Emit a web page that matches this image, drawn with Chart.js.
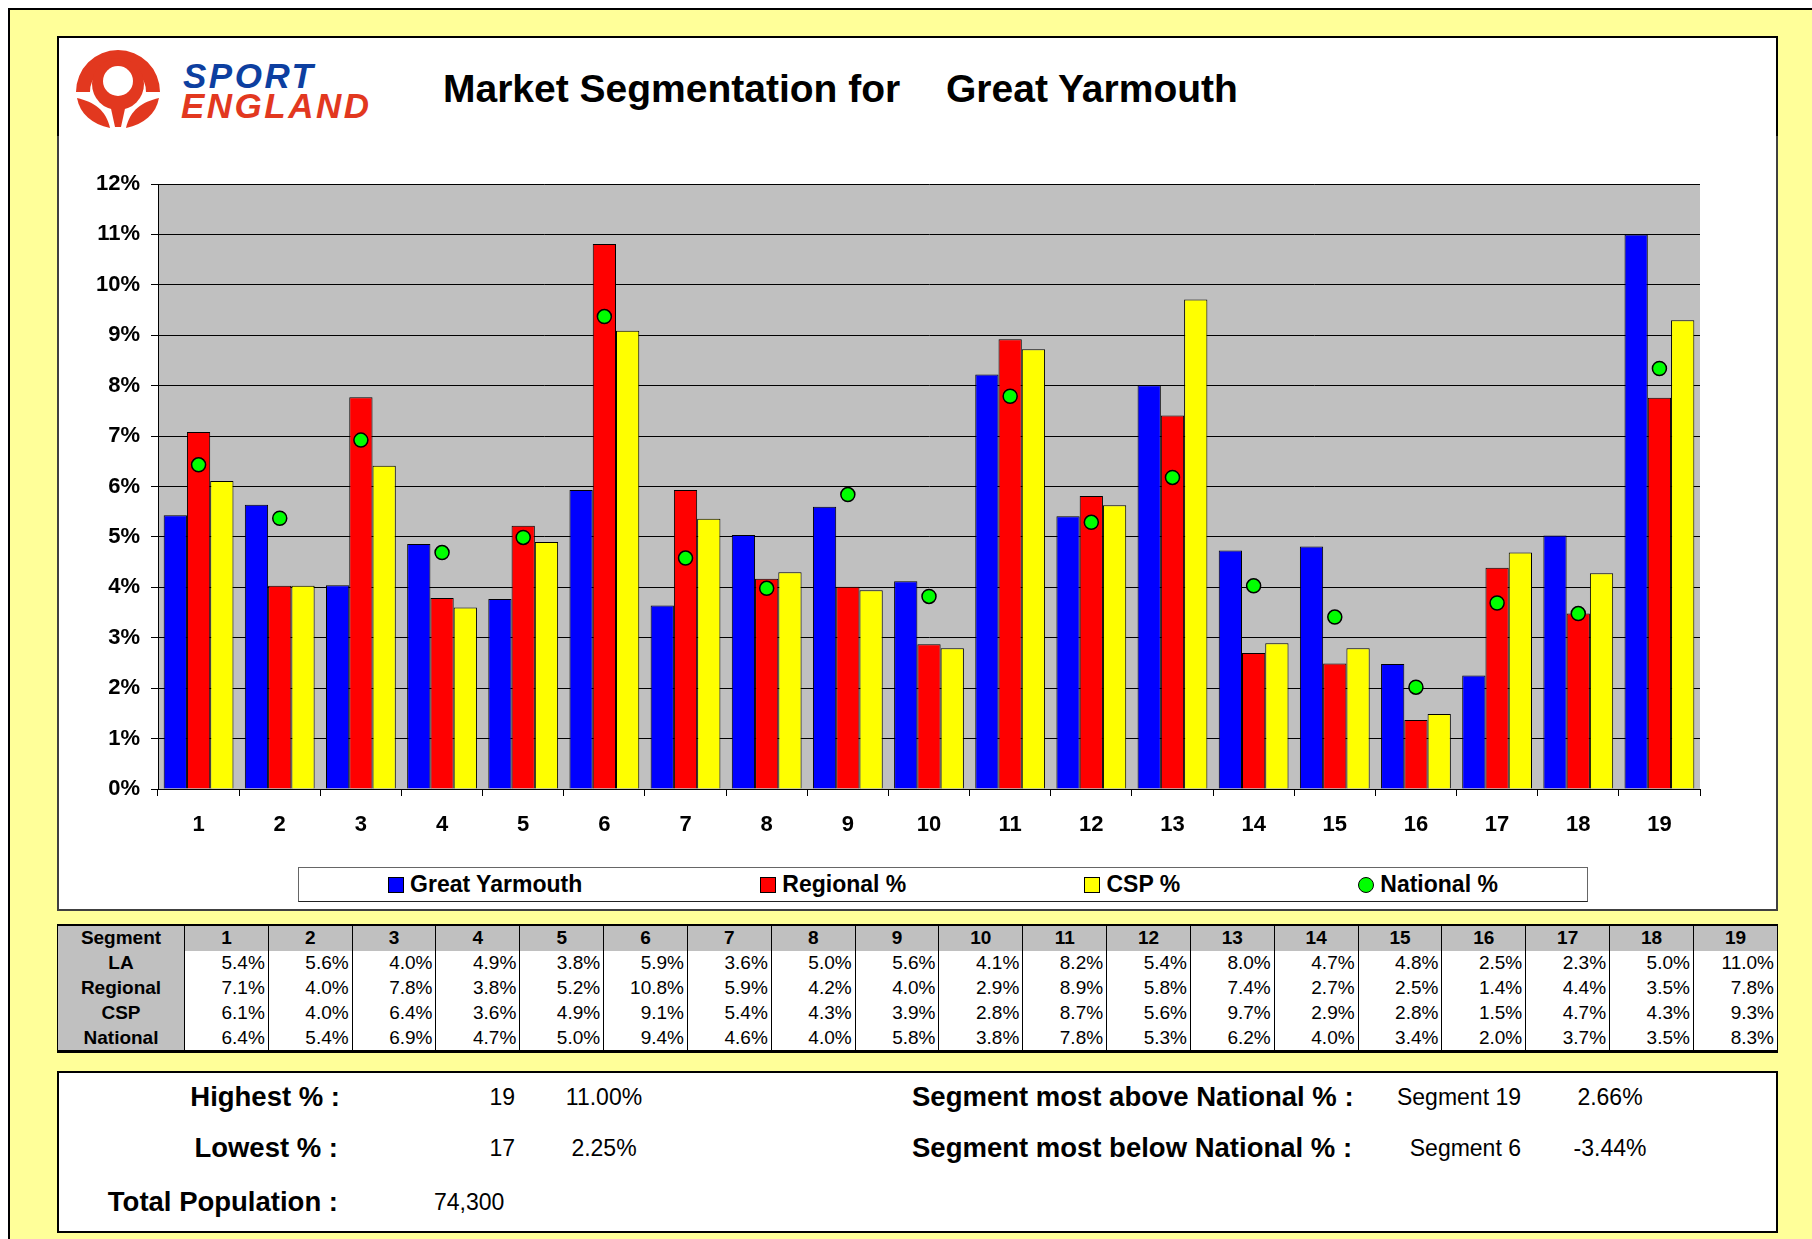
<!DOCTYPE html>
<html>
<head>
<meta charset="utf-8">
<title>Market Segmentation for Great Yarmouth</title>
<script src="https://cdn.jsdelivr.net/npm/chart.js@4.4.1/dist/chart.umd.min.js"></script>
<style>
body { margin:0; background:#fff; font-family:"Liberation Sans", Arial, sans-serif; width:1812px; height:1239px; overflow:hidden; position:relative; }
#bg { position:absolute; left:8px; top:8px; width:1830px; height:1260px; background:#ffff99; border:2px solid #000; }
.box { position:absolute; background:#fff; box-sizing:border-box; }
#chartbox { left:57px; top:134px; width:1721px; height:777px; border:2px solid #404040; }
#head { left:57px; top:36px; width:1721px; height:100px; border:2px solid #000; border-bottom:none; }
#logo { position:absolute; left:70px; top:44px; }
.logotxt { position:absolute; font-weight:bold; font-style:italic; font-size:35px; letter-spacing:2.5px; line-height:34px; }
.title { position:absolute; top:69px; font-weight:bold; font-size:39px; line-height:40px; white-space:nowrap; }
#mychart { position:absolute; left:59px; top:137px; }
#legend { position:absolute; left:298px; top:867px; width:1290px; height:35px; box-sizing:border-box; border:1px solid #666; border-bottom-color:#222; background:#fff; display:flex; justify-content:space-around; align-items:center; }
.item { display:flex; align-items:center; font-weight:bold; font-size:23px; }
.mark { width:14px; height:14px; border:1px solid #000; margin-right:6px; }
#tbl { position:absolute; left:57px; top:924px; width:1721px; border-collapse:collapse; table-layout:fixed; font-size:19px; border-top:2px solid #000; border-bottom:3px solid #000; }
#tbl td { border-left:1px solid #000; border-right:1px solid #000; height:24.8px; padding:0 3px 0 0; text-align:right; line-height:24px; background:#fff; white-space:nowrap; }
#tbl tr:first-of-type td, #tbl td:first-child { background:#c0c0c0; font-weight:bold; text-align:center; padding:0; }
#summary { left:57px; top:1071px; width:1721px; height:162px; border:2px solid #000; }
.lbl { position:absolute; font-weight:bold; font-size:27.5px; line-height:30px; white-space:nowrap; }
.val { position:absolute; font-size:23px; line-height:30px; white-space:nowrap; }
</style>
</head>
<body>
<div id="bg"></div>
<div class="box" id="chartbox"></div>
<div class="box" id="head"></div>

<svg id="logo" width="110" height="90" viewBox="0 0 110 90">
  <path d="M6,48 A42,42 0 0 1 90,48 L76,48 A28,28 0 0 0 20,48 Z" fill="#e2381f"/>
  <circle cx="48" cy="40" r="26" fill="#e2381f"/>
  <circle cx="48" cy="37" r="15" fill="#fff"/>
  <path d="M40,60 L56,60 L51,83 L45,83 Z" fill="#e2381f"/>
  <path d="M7,54 C10,70 22,80 40,84 C36,66 24,58 7,54 Z" fill="#e2381f"/>
  <path d="M89,54 C86,70 74,80 56,84 C60,66 72,58 89,54 Z" fill="#e2381f"/>
</svg>
<div class="logotxt" style="left:183px;top:59px;color:#0d3fa0;">SPORT</div>
<div class="logotxt" style="left:181px;top:89px;color:#e2381f;">ENGLAND</div>
<div class="title" style="left:443px;">Market Segmentation for</div>
<div class="title" style="left:946px;" id="area"></div>

<canvas id="mychart" width="1716" height="771"></canvas>
<div id="legend"></div>

<table id="tbl"></table>

<div class="box" id="summary"></div>
<div id="sumtext"></div>

<script>
//data
const areaName = 'Great Yarmouth';
const segments = ['1','2','3','4','5','6','7','8','9','10','11','12','13','14','15','16','17','18','19'];
const laValues = [5.43, 5.64, 4.04, 4.86, 3.77, 5.93, 3.64, 5.04, 5.60, 4.12, 8.22, 5.41, 8.01, 4.73, 4.81, 2.48, 2.25, 5.03, 11.00];
const regionalValues = [7.08, 4.03, 7.77, 3.79, 5.22, 10.81, 5.93, 4.17, 4.01, 2.87, 8.92, 5.81, 7.41, 2.70, 2.49, 1.37, 4.39, 3.48, 7.76];
const cspValues = [6.11, 4.03, 6.41, 3.60, 4.90, 9.09, 5.36, 4.30, 3.94, 2.79, 8.72, 5.63, 9.71, 2.89, 2.79, 1.49, 4.69, 4.28, 9.30];
const nationalValues = [6.43, 5.37, 6.92, 4.69, 4.99, 9.37, 4.58, 3.98, 5.84, 3.82, 7.79, 5.29, 6.18, 4.03, 3.41, 2.02, 3.69, 3.48, 8.34];
const yTicks = [0,1,2,3,4,5,6,7,8,9,10,11,12];
const totalPopulation = 74300;

const seriesNames = [areaName, 'Regional %', 'CSP %', 'National %'];
const seriesColors = ['#0000ff', '#ff0000', '#ffff00', '#00ff00'];
const tableRows = ['LA', 'Regional', 'CSP', 'National'];

const fontFam = '"Liberation Sans", Arial, sans-serif';
document.getElementById('area').textContent = areaName;

//grå bakgrunn i plottet
const plotBg = {
    id: 'plotBg',
    beforeDraw(chart) {
        const a = chart.chartArea;
        const c = chart.ctx;
        c.save();
        c.fillStyle = '#c0c0c0';
        c.fillRect(a.left, a.top, a.right - a.left, a.bottom - a.top);
        c.restore();
    }
};

const barSet = (i, data) => ({
    label: seriesNames[i],
    data: data,
    backgroundColor: seriesColors[i],
    borderColor: '#000',
    borderWidth: 1,
    categoryPercentage: 0.86,
    barPercentage: 1.0
});

new Chart(document.getElementById('mychart'), {
    type: 'bar',
    data: {
        labels: segments,
        datasets: [
            barSet(0, laValues),
            barSet(1, regionalValues),
            barSet(2, cspValues),
            {
                type: 'line',
                label: seriesNames[3],
                data: nationalValues,
                showLine: false,
                pointRadius: 7,
                pointHoverRadius: 7,
                pointBackgroundColor: seriesColors[3],
                pointBorderColor: '#000',
                pointBorderWidth: 1.5,
                order: -1
            }
        ]
    },
    options: {
        responsive: false,
        animation: false,
        layout: { padding: { top: 47, right: 75, left: 0, bottom: 0 } },
        plugins: { legend: { display: false }, tooltip: { enabled: false } },
        scales: {
            x: {
                grid: { offset: true, drawOnChartArea: false, color: '#000', tickLength: 7 },
                border: { color: '#000', width: 1 },
                ticks: { color: '#000', padding: 16, maxRotation: 0, autoSkip: false,
                    font: { family: fontFam, size: 22, weight: 'bold' } },
                afterFit: s => { s.height = 119; }
            },
            y: {
                min: yTicks[0],
                max: yTicks[yTicks.length - 1],
                grid: { color: '#000', tickLength: 7 },
                border: { color: '#000', width: 1 },
                ticks: { stepSize: 1, padding: 11, color: '#000',
                    font: { family: fontFam, size: 22, weight: 'bold' },
                    callback: v => v + '%' },
                afterFit: s => { s.width = 99; }
            }
        }
    },
    plugins: [plotBg]
});

//legend
const legend = document.getElementById('legend');
seriesNames.forEach((name, i) => {
    const item = document.createElement('div');
    item.className = 'item';
    const mark = document.createElement('div');
    mark.className = 'mark';
    mark.style.background = seriesColors[i];
    if (i === 3) mark.style.borderRadius = '50%';
    item.appendChild(mark);
    item.appendChild(document.createTextNode(name));
    legend.appendChild(item);
});

//tabell
const tbl = document.getElementById('tbl');
const cols = document.createElement('colgroup');
cols.innerHTML = '<col style="width:127px">' + segments.map(() => '<col>').join('');
tbl.appendChild(cols);
function addRow(first, cells) {
    const tr = document.createElement('tr');
    [first].concat(cells).forEach(t => {
        const td = document.createElement('td');
        td.textContent = t;
        tr.appendChild(td);
    });
    tbl.appendChild(tr);
}
addRow('Segment', segments);
[laValues, regionalValues, cspValues, nationalValues].forEach((vals, i) => {
    addRow(tableRows[i], vals.map(v => v.toFixed(1) + '%'));
});

//oppsummering
let hi = 0, lo = 0, above = 0, below = 0;
laValues.forEach((v, i) => {
    if (v > laValues[hi]) hi = i;
    if (v < laValues[lo]) lo = i;
    if (v - nationalValues[i] > laValues[above] - nationalValues[above]) above = i;
    if (v - nationalValues[i] < laValues[below] - nationalValues[below]) below = i;
});
const sumItems = [
    ['lbl', 'Highest % :', 340, 1082, 'right'],
    ['val', segments[hi], 515, 1082, 'right'],
    ['val', laValues[hi].toFixed(2) + '%', 604, 1082, 'center'],
    ['lbl', 'Lowest % :', 338, 1133, 'right'],
    ['val', segments[lo], 515, 1133, 'right'],
    ['val', laValues[lo].toFixed(2) + '%', 604, 1133, 'center'],
    ['lbl', 'Total Population :', 338, 1187, 'right'],
    ['val', totalPopulation.toLocaleString('en-GB'), 434, 1187, 'left'],
    ['lbl', 'Segment most above National % :', 912, 1082, 'left'],
    ['val', 'Segment ' + segments[above], 1521, 1082, 'right'],
    ['val', (laValues[above] - nationalValues[above]).toFixed(2) + '%', 1610, 1082, 'center'],
    ['lbl', 'Segment most below National % :', 912, 1133, 'left'],
    ['val', 'Segment ' + segments[below], 1521, 1133, 'right'],
    ['val', (laValues[below] - nationalValues[below]).toFixed(2) + '%', 1610, 1133, 'center']
];
const sumtext = document.getElementById('sumtext');
sumItems.forEach(([cls, txt, x, y, align]) => {
    const d = document.createElement('div');
    d.className = cls;
    d.textContent = txt;
    d.style.top = y + 'px';
    d.style.left = x + 'px';
    if (align === 'right') d.style.transform = 'translateX(-100%)';
    if (align === 'center') d.style.transform = 'translateX(-50%)';
    sumtext.appendChild(d);
});
</script>
</body>
</html>
